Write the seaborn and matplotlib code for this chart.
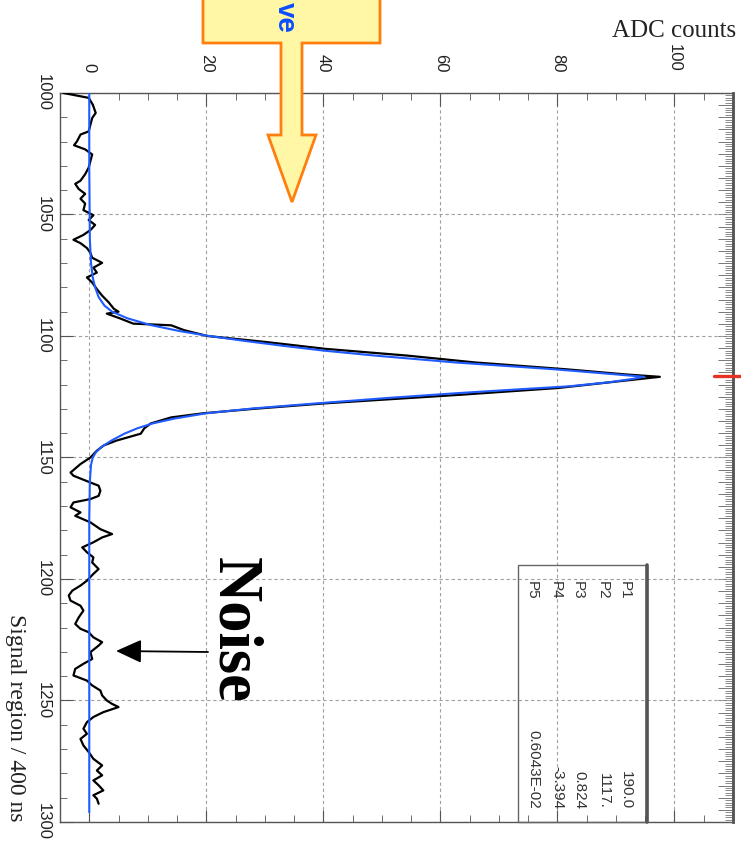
import matplotlib
matplotlib.use("Agg")
import matplotlib.pyplot as plt
import pandas as pd
import seaborn as sns
from matplotlib.ticker import MultipleLocator, FixedLocator
from matplotlib.patches import Polygon, Rectangle, FancyArrowPatch
from matplotlib.lines import Line2D

# ---------------- data ----------------
signal_time = [1000, 1002, 1004.8, 1008.2, 1010.3, 1013.0, 1015.8, 1017.1, 1019.9, 1021.5,
               1023.2, 1025.3, 1028.0, 1030.7, 1033.4, 1036.1, 1037.4, 1039.5, 1041.5, 1043.5,
               1045.5, 1048.2, 1050.3, 1052.3, 1054.3, 1056.4, 1058.4, 1060.4, 1061.8, 1063.8,
               1065.8, 1067.8, 1069.9, 1071.9, 1073.9, 1075.9, 1078.0, 1080.7, 1083.4, 1086.1,
               1088.8, 1090.0, 1090.8, 1092.8, 1094.9, 1095.6, 1097.6, 1100.0, 1102.5, 1105.3,
               1108.1, 1110.9, 1113.7, 1115.8, 1116.8, 1118.5, 1121.4, 1124.2, 1127.7, 1130.0,
               1131.8, 1133.5, 1136.0, 1138.0, 1140.2, 1143.0, 1145.0, 1147.2, 1150.0, 1152.7,
               1156.2, 1157.5, 1160.3, 1161.6, 1163.7, 1165.8, 1167.1, 1168.5, 1170.5, 1172.6,
               1174.0, 1176.7, 1179.5, 1181.5, 1182.9, 1184.9, 1187.0, 1189.0, 1191.1, 1193.2,
               1195.9, 1197.9, 1200.7, 1202.7, 1204.8, 1206.8, 1208.9, 1211.0, 1213.0, 1215.8,
               1218.5, 1220.5, 1221.9, 1224.0, 1226.0, 1227.4, 1230.1, 1232.9, 1234.9, 1237.0,
               1239.7, 1241.8, 1243.8, 1245.9, 1247.9, 1250.0, 1251.4, 1252.7, 1254.8, 1256.8,
               1258.9, 1261.6, 1263.7, 1265.8, 1268.5, 1271.2, 1274.0, 1276.7, 1278.8, 1280.8,
               1282.9, 1284.9, 1287.0, 1289.0, 1290.4, 1292.5]
signal_adc = [-4.4, -0.1, 0.6, 1.1, 0.5, 0.2, -0.1, -1.5, -2.1, -2.6,
              -0.7, 0.5, 0.2, -0.1, -0.7, -1.5, -2.4, -1.8, -0.7, -1.5,
              -0.7, -1.0, 0.7, -0.1, 1.0, 0.2, -1.0, -2.7, -1.5, -0.4,
              0.2, 0.5, 2.2, 0.7, 1.3, -0.4, 0.5, 1.3, 2.2, 3.3,
              4.2, 5.0, 3.0, 5.3, 7.5, 14.0, 16.2, 20.2, 30.3, 40.4,
              54.5, 66.0, 81.5, 91.6, 97.5, 91.0, 80.1, 63.3, 40.4, 28.0,
              19.5, 14.0, 10.5, 9.4, 8.8, 4.7, 2.5, 1.3, 0.2, -1.5,
              -3.2, -2.7, 0.2, 1.6, 1.9, 1.6, 0.2, -2.7, -3.2, -1.5,
              -2.4, 0.2, 1.9, 3.9, 2.2, 0.7, -1.2, -0.4, 0.7, 0.5,
              1.6, 0.7, -0.4, -1.5, -2.9, -3.5, -3.2, -1.5, -1.0, -1.8,
              -2.4, -1.5, -0.1, 0.7, 2.2, 1.6, 0.2, 0.5, -1.0, -2.4,
              -2.7, -0.4, 0.5, 1.9, 2.2, 3.0, 3.9, 5.0, 2.4, 0.7,
              -0.4, -1.0, -0.4, -1.5, -1.0, -0.1, 0.7, 2.2, 1.3, 2.2,
              0.7, 1.6, 2.4, 0.7, 1.3, 1.6]

fit_time = [1000, 1030, 1060, 1070, 1076, 1080, 1084, 1087.5, 1090, 1092.7,
            1095.5, 1098, 1100, 1102, 1104, 1106, 1108.1, 1110.9, 1113.7, 1115.8,
            1116.8, 1117.6, 1119, 1120.7, 1122, 1123.5, 1125.5, 1127.7, 1129.8, 1131.8,
            1134, 1136, 1138, 1140.2, 1143, 1145.8, 1148, 1150, 1153, 1160,
            1175, 1296]
fit_adc = [0.0, 0.0, 0.1, 0.3, 0.6, 1.0, 1.6, 2.6, 3.9, 6.5,
           10.5, 15.5, 20.5, 26.5, 33.0, 40.0, 49.0, 62.6, 79.5, 90.0,
           94.8, 93.0, 89.0, 82.0, 73.0, 63.0, 51.0, 39.0, 28.0, 20.0,
           14.5, 10.8, 8.2, 6.0, 3.8, 2.0, 1.1, 0.6, 0.3, 0.1,
           0.0, 0.0]

adc_ticks = [0, 20, 40, 60, 80, 100]
time_ticks = [1000, 1050, 1100, 1150, 1200, 1250, 1300]
param_names = ["P1", "P2", "P3", "P4", "P5"]
param_values = ["190.0", "1117.", "0.824", "-3.394", "0.6043E-02"]

# ---------------- styling ----------------
sns.set_theme(style="white")
plt.rcParams["font.family"] = ["Liberation Sans", "DejaVu Sans"]

W, H = 741, 852
fig = plt.figure(figsize=(W / 100, H / 100), dpi=100)


def fx(x):
    return x / W


def fy(y):
    return 1 - y / H


ax = fig.add_axes([fx(60), fy(822), (733 - 60) / W, (822 - 93) / H])

sig = pd.DataFrame({"time": signal_time, "adc": signal_adc})
fit = pd.DataFrame({"time": fit_time, "adc": fit_adc})
sns.lineplot(data=sig, x="adc", y="time", sort=False, estimator=None,
             color="black", lw=1.6, ax=ax, zorder=3)
sns.lineplot(data=fit, x="adc", y="time", sort=False, estimator=None,
             color="#1f5bff", lw=1.5, ax=ax, zorder=4)

ax.set_xlim(-5, 110)
ax.set_ylim(1300, 1000)
ax.set_xlabel("")
ax.set_ylabel("")

ax.xaxis.set_major_locator(FixedLocator(adc_ticks))
ax.xaxis.set_minor_locator(MultipleLocator(5))
ax.yaxis.set_major_locator(FixedLocator(time_ticks))
ax.yaxis.set_minor_locator(MultipleLocator(10))
ax.set_xticklabels([str(v) for v in adc_ticks])
ax.set_yticklabels([str(v) for v in time_ticks])

ax.tick_params(axis="x", which="both", direction="in", top=True, bottom=True,
               labeltop=True, labelbottom=False, color="#555555", labelcolor="#222222")
ax.tick_params(axis="x", which="major", length=9, width=0.8, pad=15,
               labelsize=12, labelrotation=-90)
ax.tick_params(axis="x", which="minor", length=5, width=0.6)
ax.tick_params(axis="y", which="both", direction="in", left=True, right=False,
               labelleft=True, color="#555555", labelcolor="#222222")
ax.tick_params(axis="y", which="major", length=9, width=0.8, pad=7,
               labelsize=12, labelrotation=-90)
ax.tick_params(axis="y", which="minor", length=5, width=0.6)
for lab in ax.get_yticklabels():
    lab.set_verticalalignment("center")

ax.grid(True, which="major", color="#a0a0a0", linestyle=(0, (3, 2.5)), lw=0.8)
ax.set_axisbelow(True)
for sp in ax.spines.values():
    sp.set_color("#555555")
    sp.set_linewidth(1.0)
ax.spines["right"].set_linewidth(1.8)

sec = ax.secondary_yaxis("right")
sec.yaxis.set_major_locator(MultipleLocator(5))
sec.yaxis.set_minor_locator(MultipleLocator(1))
sec.tick_params(which="both", direction="in", labelright=False, labelleft=False,
                color="#777777")
sec.tick_params(which="major", length=11, width=0.7)
sec.tick_params(which="minor", length=6, width=0.6)
sec.spines["right"].set_color("#555555")
sec.spines["right"].set_linewidth(1.8)

# axis titles
fig.text(fx(15), fy(822), "Signal region / 400 ns", rotation=-90, ha="center",
         va="bottom", family=["Liberation Serif"], fontsize=17, color="#222222")
fig.text(fx(736), fy(31), "ADC counts", ha="right", va="center",
         family=["Liberation Serif"], fontsize=18, color="#222222")

# parameter box
box_l, box_r = (518 - 60) / 673, (647 - 60) / 673
box_t = (822 - 565) / 729
ax.add_patch(Rectangle((box_l, 0), box_r - box_l, box_t, transform=ax.transAxes,
                       fill=False, edgecolor="#666666", lw=1.0, zorder=5, clip_on=False))
ax.add_line(Line2D([box_r, box_r], [0, box_t], transform=ax.transAxes,
                   color="#555555", lw=2.6, zorder=5, clip_on=False))
col_x = [625, 603, 578, 556, 532]
for name, val, cx in zip(param_names, param_values, col_x):
    fig.text(fx(cx), fy(581), name, rotation=-90, ha="center", va="top",
             fontsize=11, color="#333333")
    fig.text(fx(cx + 1), fy(809), val, rotation=-90, ha="center", va="bottom",
             fontsize=11, color="#333333")

# yellow block arrow annotation
arrow_px = [(203, -5), (380, -5), (380, 43), (302, 43), (302, 135), (316, 135),
            (292, 202), (268, 135), (281, 135), (281, 43), (203, 43)]
fig.add_artist(Polygon([(fx(x), fy(y)) for x, y in arrow_px], closed=True,
                       transform=fig.transFigure, facecolor="#fff7a6",
                       edgecolor="#ff7f0e", lw=2.0, zorder=10))
fig.text(fx(278), fy(2), "ve", rotation=-90, rotation_mode="anchor", ha="left",
         va="baseline", fontsize=20, weight="bold", color="#0b4dff", zorder=11)

# Noise annotation
fig.text(fx(218), fy(630), "Noise", rotation=-90, rotation_mode="anchor",
         ha="center", va="baseline", family=["Liberation Serif"], weight="bold",
         fontsize=45, color="black", zorder=11)
fig.add_artist(FancyArrowPatch((fx(208), fy(652)), (fx(116), fy(651)),
                               transform=fig.transFigure,
                               arrowstyle="-|>,head_length=1.05,head_width=0.48",
                               mutation_scale=15, color="black", lw=1.3,
                               shrinkA=0, shrinkB=0, zorder=11))

# red marker at the right edge
fig.add_artist(Line2D([fx(714), fx(741)], [fy(376), fy(376)], transform=fig.transFigure,
                      color="#e53222", lw=2.4, zorder=11))

fig.savefig("out.png", dpi=100)
